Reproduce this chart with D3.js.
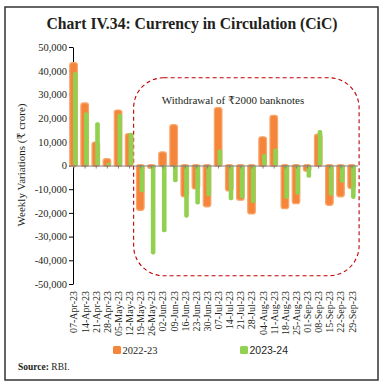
<!DOCTYPE html>
<html><head><meta charset="utf-8">
<script src="https://cdn.jsdelivr.net/npm/d3@7"></script>
<style>
html,body{margin:0;padding:0;background:#fff;}
svg{display:block;}
</style></head>
<body>
<svg id="c" width="383" height="385"></svg>
<script>
const categories = ["07-Apr-23","14-Apr-23","21-Apr-23","28-Apr-23","05-May-23","12-May-23","19-May-23","26-May-23","02-Jun-23","09-Jun-23","16-Jun-23","23-Jun-23","30-Jun-23","07-Jul-23","14-Jul-23","21-Jul-23","28-Jul-23","04-Aug-23","11-Aug-23","18-Aug-23","25-Aug-23","01-Sep-23","08-Sep-23","15-Sep-23","22-Sep-23","29-Sep-23"];
const series2223 = [43000, 26000, 9500, 2500, 23000, 13000, -18500, -800, 5300, 16800, -12800, -9500, -17000, 24000, -10300, -14200, -20000, 11700, 20700, -17800, -15700, -2000, 12800, -16400, -12800, -9300];
const series2324 = [39500, 22500, 18200, 1200, 21800, 13800, -11300, -37500, -28200, -7100, -22000, -16500, -13000, 6800, -14700, -13800, -15800, 4900, 7200, -14100, -12300, -5200, 15000, -12800, -7300, -14100];
const yTicks = [50000, 40000, 30000, 20000, 10000, 0, -10000, -20000, -30000, -40000, -50000];
const legendLabels = ["2022-23", "2023-24"];
const titleText = "Chart IV.34: Currency in Circulation (CiC)";
const yTitle = "Weekly Variations (\u20B9 crore)";
const annotation = "Withdrawal of \u20B92000 banknotes";

const svg = d3.select("#c");
const ORANGE = "#F5853A", GREEN = "#92D050";
const serif = "'Liberation Serif','DejaVu Serif',serif";

// frame
svg.append("rect").attr("x",5).attr("y",7).attr("width",373).attr("height",373)
  .attr("fill","none").attr("stroke","#333").attr("stroke-width",1.5);

svg.append("text").attr("x",192).attr("y",29).attr("text-anchor","middle")
  .attr("font-family",serif).attr("font-weight","bold").attr("font-size",15.7)
  .attr("fill","#231f20").text(titleText);

const x = d3.scaleBand().domain(categories).range([68.4, 357.6]).padding(0);
const y = d3.scaleLinear().domain([-50000, 50000]).range([284, 47]);
const cx = c => x(c) + x.bandwidth()/2;

// dashed rounded region
const r0 = categories[6], r1 = categories[25];
svg.append("rect")
  .attr("x", x(r0) - 1.5).attr("y", y(37000))
  .attr("width", x(r1) + x.bandwidth() + 1.5 - (x(r0) - 1.5))
  .attr("height", y(-46500) - y(37000))
  .attr("rx", 30).attr("ry", 30)
  .attr("fill","none").attr("stroke","#C00000").attr("stroke-width",1.1)
  .attr("stroke-dasharray","4,3");

svg.append("text").attr("x",233).attr("y",104).attr("text-anchor","middle")
  .attr("font-family",serif).attr("font-size",11).attr("fill","#231f20").text(annotation);

// y axis
const yAxis = d3.axisLeft(y).tickValues(yTicks).tickSize(4).tickSizeOuter(0)
  .tickFormat(d => (d < 0 ? "-" : "") + d3.format(",")(Math.abs(d)));
const gy = svg.append("g").attr("transform","translate(73,0)").call(yAxis);
gy.select(".domain").attr("stroke","#000").attr("stroke-width",1);
gy.selectAll(".tick line").attr("stroke","#000");
gy.selectAll("text").attr("font-family",serif).attr("font-size",10.5).attr("fill","#231f20").attr("x",-6);

svg.append("text").attr("transform","translate(25,165) rotate(-90)").attr("text-anchor","middle")
  .attr("font-family",serif).attr("font-size",11).attr("fill","#231f20").text(yTitle);

// bars
const g = svg.append("g");
g.selectAll("rect.o").data(categories).join("rect").attr("class","o")
  .attr("x", c => cx(c) - 4.2).attr("width", 7.6)
  .attr("y", (c,i) => y(Math.max(0, series2223[i])) - 1)
  .attr("height", (c,i) => Math.abs(y(series2223[i]) - y(0)) + 2)
  .attr("rx", 2.5).attr("fill", ORANGE).attr("stroke","#F8A76C").attr("stroke-width",1.2);
g.selectAll("rect.g").data(categories).join("rect").attr("class","g")
  .attr("x", c => cx(c) - 1).attr("width", 4.6)
  .attr("y", (c,i) => y(Math.max(0, series2324[i])))
  .attr("height", (c,i) => Math.abs(y(series2324[i]) - y(0)))
  .attr("rx", 1.8).attr("fill", GREEN);

// zero axis
const xAxis = d3.axisBottom(x).tickSize(3).tickSizeOuter(0).tickFormat("");
const gx = svg.append("g").attr("transform", `translate(0,${y(0)})`).call(xAxis);
gx.select(".domain").attr("stroke","#7f7f7f").attr("stroke-width",1.2);
gx.selectAll(".tick line").attr("stroke","#7f7f7f");

// category labels
const xLab = d3.axisBottom(x).tickSize(0).tickSizeOuter(0);
const gl = svg.append("g").attr("transform","translate(0,288)").call(xLab);
gl.select(".domain").remove();
gl.selectAll("text").attr("font-family",serif).attr("font-size",10).attr("fill","#231f20")
  .attr("transform","rotate(-90)").attr("text-anchor","end")
  .attr("x",-3).attr("y",0).attr("dy","0.35em");

// legend
const legX = [113, 240];
const legColors = [ORANGE, GREEN];
const legFonts = [serif, "'Liberation Sans','DejaVu Sans',sans-serif"];
legendLabels.forEach((l,i) => {
  svg.append("rect").attr("x",legX[i]).attr("y",346).attr("width",8).attr("height",8)
    .attr("rx",1.5).attr("fill",legColors[i]);
  svg.append("text").attr("x",legX[i]+9.5).attr("y",353.5)
    .attr("font-family",legFonts[i]).attr("font-size",10.5).attr("fill","#231f20").text(l);
});

// source
const src = svg.append("text").attr("x",18).attr("y",370)
  .attr("font-family",serif).attr("font-size",9.5).attr("fill","#231f20");
src.append("tspan").attr("font-weight","bold").text("Source:");
src.append("tspan").text(" RBI.");
</script>
</body></html>
